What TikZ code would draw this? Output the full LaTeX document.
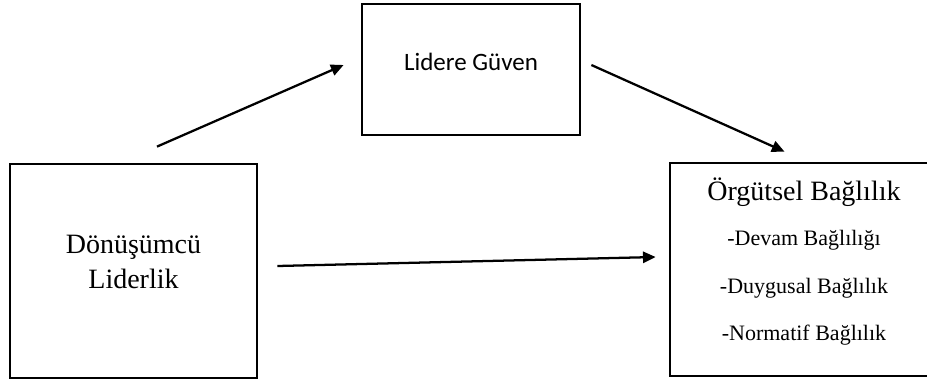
\documentclass[tikz,border=0pt]{standalone}
\usepackage{fontspec}
\setmainfont{Liberation Serif}
\newfontfamily\calibrifont{Carlito}
\usepackage{tikz}
\usetikzlibrary{arrows.meta}
\usetikzlibrary{positioning}
\usetikzlibrary{calc}
\tikzstyle{box} = [draw, line width = 2.1pt, inner sep = 0]
\tikzstyle{big label} = [inner sep = 0, align = center, font = \fontsize{21}{26.25}\selectfont]
\tikzstyle{small label} = [inner sep = 0, font = \fontsize{16.5}{20}\selectfont]
\tikzstyle{link} = [line width = 1.7pt, -{Triangle[length = 9.5pt, width = 8.5pt]}]

\begin{document}
\begin{tikzpicture}[x = 0.75pt, y = -0.75pt]
            \useasboundingbox (0, 0) rectangle (927, 383);
            \clip (0, 0) rectangle (927, 383);

            \node [box, minimum width = 185.25pt, minimum height = 160.5pt]
                  (donusum) at (133.5, 271) {};
            \node [box, minimum width = 163.5pt, minimum height = 98.25pt]
                  (guven) at (471, 69.5) {};
            \node [box, minimum width = 201pt, minimum height = 159.75pt]
                  (baglilik) at (804, 269.5) {};

            \node [big label] (donusumtext) at ($(donusum) + (0, -9)$)
                  {Dönüşümcü\\Liderlik};
            \node [inner sep = 0, font = \calibrifont\fontsize{18.75}{22}\selectfont]
                  (guventext) at ($(guven) + (0, -7.5)$) {Lidere Güven};
            \node [big label] (baglilikhead) at ($(baglilik) + (0, -77.5)$)
                  {Örgütsel Bağlılık};

            \foreach \name/\dy/\txt in {devam/-29.5/-Devam Bağlılığı,
                                        duygu/18.5/-Duygusal Bağlılık,
                                        norma/65.5/-Normatif Bağlılık}
            {
                \node [small label] (\name) at ($(baglilik) + (0, \dy)$) {\txt};
            }

            \draw [link] ($(donusum.north) + (23.5, -16)$)
                  -- ($(guven.west) + (-17, -4.5)$);
            \draw [link] ($(guven.east) + (10, -4.5)$)
                  -- ($(baglilik.north) + (-19.5, -10)$);
            \draw [link] ($(donusum.east) + (19, -5)$)
                  -- ($(baglilik.west) + (-13, -12.5)$);
        \end{tikzpicture}
\end{document}
